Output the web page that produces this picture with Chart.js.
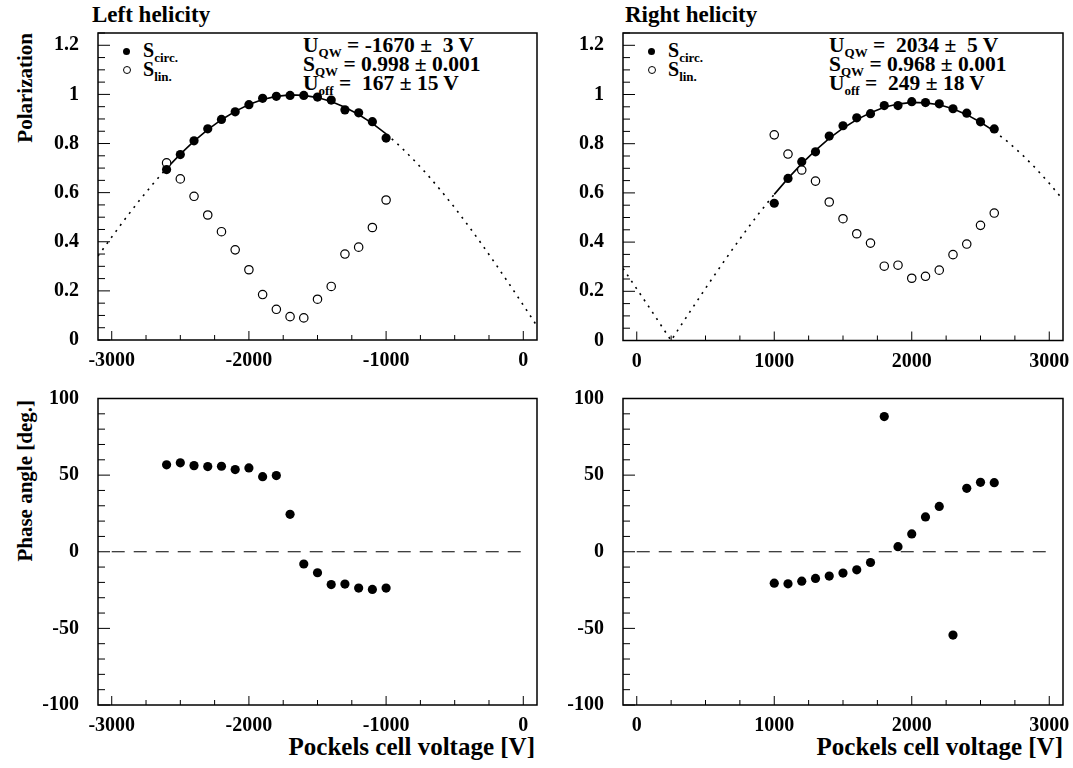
<!DOCTYPE html>
<html><head><meta charset="utf-8">
<script src="https://cdn.jsdelivr.net/npm/chart.js@4.4.1/dist/chart.umd.min.js"></script>
<style>
html,body{margin:0;padding:0;background:#fff;}
body{width:1073px;height:768px;position:relative;overflow:hidden;font-family:'Liberation Serif','Times New Roman',serif;font-weight:bold;color:#000;}
canvas{position:absolute;}
.t{position:absolute;white-space:pre;}
.title{font-size:23px;line-height:24px;}
.ytitle{font-size:21px;line-height:24px;width:300px;text-align:right;transform-origin:0 0;transform:rotate(-90deg);}
.xtitle{font-size:25px;line-height:26px;width:400px;text-align:right;}
.par{font-size:21.5px;line-height:19px;}
.par sub,.leg sub{font-size:13px;vertical-align:-5px;line-height:0;}
.leg{font-size:20px;line-height:19px;}
.dot{position:absolute;border-radius:50%;box-sizing:border-box;}
</style></head><body>

<div class="t title" style="left:92px;top:3px">Left helicity</div>
<div class="t title" style="left:625px;top:3px">Right helicity</div>
<div class="t ytitle" style="left:13px;top:333px">Polarization</div>
<div class="t ytitle" style="left:13px;top:700px">Phase angle [deg.]</div>
<div class="t xtitle" style="left:135px;top:734px">Pockels cell voltage [V]</div>
<div class="t xtitle" style="left:663px;top:734px">Pockels cell voltage [V]</div>

<div class="t par" style="left:303px;top:36px">U<sub>QW</sub> = -1670 ±  3 V
S<sub>QW</sub> = 0.998 ± 0.001
U<sub>off</sub> =  167 ± 15 V</div>
<div class="t par" style="left:829px;top:36px">U<sub>QW</sub> =  2034 ±  5 V
S<sub>QW</sub> = 0.968 ± 0.001
U<sub>off</sub> =  249 ± 18 V</div>

<div class="dot" style="left:123px;top:48px;width:7px;height:7px;background:#000"></div>
<div class="dot" style="left:122.5px;top:66px;width:8px;height:8px;border:1px solid #000"></div>
<div class="t leg" style="left:143px;top:41px">S<sub>circ.</sub></div>
<div class="t leg" style="left:143px;top:60px">S<sub>lin.</sub></div>
<div class="dot" style="left:648px;top:48px;width:7px;height:7px;background:#000"></div>
<div class="dot" style="left:647.5px;top:66px;width:8px;height:8px;border:1px solid #000"></div>
<div class="t leg" style="left:668px;top:41px">S<sub>circ.</sub></div>
<div class="t leg" style="left:668px;top:60px">S<sub>lin.</sub></div>

<canvas id="c1"></canvas>
<canvas id="c2"></canvas>
<canvas id="c3"></canvas>
<canvas id="c4"></canvas>

<script>
// ---------- data ----------
const voltLeft  = [-2600,-2500,-2400,-2300,-2200,-2100,-2000,-1900,-1800,-1700,-1600,-1500,-1400,-1300,-1200,-1100,-1000];
const circLeft  = [0.694,0.755,0.811,0.860,0.898,0.929,0.958,0.984,0.992,0.996,0.996,0.989,0.977,0.937,0.925,0.889,0.822];
const linLeft   = [0.721,0.656,0.585,0.509,0.441,0.367,0.286,0.185,0.125,0.095,0.090,0.166,0.218,0.350,0.378,0.458,0.570];
const phaseLeft = [56.7,58.0,56.2,55.6,55.8,53.6,54.7,49.0,49.7,24.4,-8.0,-13.7,-21.4,-21.1,-23.7,-24.6,-23.7];

const voltRight  = [1000,1100,1200,1300,1400,1500,1600,1700,1800,1900,2000,2100,2200,2300,2400,2500,2600];
const circRight  = [0.558,0.659,0.727,0.767,0.831,0.873,0.905,0.922,0.955,0.955,0.971,0.967,0.962,0.942,0.924,0.889,0.860];
const linRight   = [0.836,0.758,0.693,0.648,0.563,0.495,0.434,0.396,0.302,0.306,0.253,0.261,0.286,0.349,0.392,0.468,0.518];
const phaseRight = [-20.5,-20.9,-19.2,-17.4,-15.9,-13.9,-11.8,-7.0,88.2,3.3,11.6,22.7,29.6,-54.4,41.4,45.3,45.1];

// fit curves
const fitVoltLeft = [-3100,-3000,-2900,-2800,-2700,-2600,-2500,-2400,-2300,-2200,-2100,-2000,-1900,-1800,-1700,-1600,-1500,-1400,-1300,-1200,-1100,-1000,-900,-800,-700,-600,-500,-400,-300,-200,-100,0,100];
const fitLeft     = [0.342,0.419,0.495,0.567,0.635,0.699,0.757,0.810,0.857,0.897,0.931,0.959,0.979,0.992,0.998,0.996,0.987,0.971,0.948,0.918,0.882,0.839,0.790,0.734,0.674,0.608,0.539,0.465,0.388,0.308,0.226,0.142,0.057];
const fitVoltRight = [-100,0,100,200,250,300,400,500,600,700,800,900,1000,1100,1200,1300,1400,1500,1600,1700,1800,1900,2000,2100,2200,2300,2400,2500,2600,2700,2800,2900,3000,3100];
const fitRight     = [0.293,0.210,0.127,0.042,0.000,0.043,0.128,0.212,0.294,0.374,0.451,0.525,0.594,0.659,0.719,0.773,0.822,0.863,0.898,0.926,0.948,0.961,0.968,0.966,0.958,0.942,0.918,0.887,0.851,0.807,0.757,0.701,0.639,0.572];

const zeroLineLeftX  = [-3000, 0];
const zeroLineRightX = [0, 3000];
const zeroLineY      = [0, 0];

const xTicksLeft  = [-3000,-2000,-1000,0];
const xLabelsLeft = ['-3000','-2000','-1000','0'];
const xTicksRight  = [0,1000,2000,3000];
const xLabelsRight = ['0','1000','2000','3000'];
const yTicksPol  = [0,0.2,0.4,0.6,0.8,1,1.2];
const yLabelsPol = ['0','0.2','0.4','0.6','0.8','1','1.2'];
const yTicksPh  = [-100,-50,0,50,100];
const yLabelsPh = ['-100','-50','0','50','100'];

// ---------- helpers ----------
const pts = (xs, ys) => xs.map((x, i) => ({x: x, y: ys[i]}));
const FONT = {family:"'Liberation Serif','Times New Roman',serif", weight:'bold', size:20};

const innerTicks = {
  id: 'innerTicks',
  afterDraw(chart, args, o) {
    const {ctx, chartArea: a, scales: {x, y}} = chart;
    ctx.save();
    ctx.strokeStyle = '#000';
    ctx.lineWidth = 1;
    ctx.beginPath();
    for (let k = Math.ceil(x.min / o.xMinor - 1e-9); k * o.xMinor <= x.max + 1e-9; k++) {
      const px = x.getPixelForValue(k * o.xMinor);
      const len = (k % o.xRatio === 0) ? 9 : 5;
      ctx.moveTo(px, a.bottom); ctx.lineTo(px, a.bottom - len);
    }
    for (let k = Math.ceil(y.min / o.yMinor - 1e-9); k * o.yMinor <= y.max + 1e-9; k++) {
      const py = y.getPixelForValue(k * o.yMinor);
      const len = (k % o.yRatio === 0) ? 12 : 7;
      ctx.moveTo(a.left, py); ctx.lineTo(a.left + len, py);
    }
    ctx.stroke();
    ctx.lineWidth = 1.5;
    ctx.strokeRect(a.left, a.top, a.right - a.left, a.bottom - a.top);
    ctx.restore();
  }
};

function panel(id, rect, frame, xr, yr, datasets, tickOpts) {
  const cv = document.getElementById(id);
  cv.width = rect.w; cv.height = rect.h;
  cv.style.left = rect.l + 'px'; cv.style.top = rect.t + 'px';
  const yW = frame.l - rect.l, xH = rect.t + rect.h - frame.b;
  const zeroPad = s => { s.paddingTop = 0; s.paddingBottom = 0; s.paddingLeft = 0; s.paddingRight = 0; };
  new Chart(cv, {
    type: 'scatter',
    data: {datasets: datasets},
    options: {
      responsive: false, animation: false, devicePixelRatio: 1,
      layout: {padding: {top: frame.t - rect.t, right: rect.l + rect.w - frame.r, left: 0, bottom: 0}},
      plugins: {legend: {display: false}, tooltip: {enabled: false}, innerTicks: tickOpts},
      scales: {
        x: {type: 'linear', position: 'bottom', min: xr.min, max: xr.max,
            grid: {display: false}, border: {display: false},
            ticks: {font: FONT, color: '#000', padding: 1, maxRotation: 0, autoSkip: false,
                    callback: (v) => { const i = xr.ticks.indexOf(v); return i >= 0 ? xr.labels[i] : ''; }},
            afterBuildTicks: s => { s.ticks = xr.ticks.map(v => ({value: v})); },
            afterFit: s => { s.height = xH; zeroPad(s); }},
        y: {type: 'linear', position: 'left', min: yr.min, max: yr.max,
            grid: {display: false}, border: {display: false},
            ticks: {font: FONT, color: '#000', padding: 11, autoSkip: false,
                    callback: (v) => { const i = yr.ticks.indexOf(v); return i >= 0 ? yr.labels[i] : ''; }},
            afterBuildTicks: s => { s.ticks = yr.ticks.map(v => ({value: v})); },
            afterFit: s => { s.width = yW; zeroPad(s); }}
      }
    },
    plugins: [innerTicks]
  });
}

const filled = (xs, ys) => ({data: pts(xs, ys), pointRadius: 4.6, pointBackgroundColor: '#000', pointBorderWidth: 0, showLine: false});
const open = (xs, ys) => ({data: pts(xs, ys), pointRadius: 4.2, pointBackgroundColor: '#fff', pointBorderColor: '#000', pointBorderWidth: 1.2, showLine: false});
const fit = (xs, ys, lo, hi) => ({data: pts(xs, ys), showLine: true, pointRadius: 0, borderColor: '#000', borderWidth: 1.6,
  segment: {borderDash: c => (c.p0.parsed.x >= lo - 1 && c.p1.parsed.x <= hi + 1) ? [] : [2, 5.5]}});
const zero = (xs) => ({data: pts(xs, zeroLineY), showLine: true, pointRadius: 0, borderColor: '#000', borderWidth: 1, borderDash: [13, 9]});

const polTicks = {xMinor: 250, xRatio: 4, yMinor: 0.05, yRatio: 4};
const phTicks  = {xMinor: 250, xRatio: 4, yMinor: 10, yRatio: 5};

panel('c1', {l: 30, t: 25, w: 515, h: 355}, {l: 98, t: 33, r: 537, b: 340},
  {min: -3100, max: 100, ticks: xTicksLeft, labels: xLabelsLeft},
  {min: 0, max: 1.25, ticks: yTicksPol, labels: yLabelsPol},
  [filled(voltLeft, circLeft), open(voltLeft, linLeft), fit(fitVoltLeft, fitLeft, -2600, -1000)], polTicks);

panel('c2', {l: 555, t: 25, w: 518, h: 355}, {l: 623, t: 33, r: 1063, b: 340.5},
  {min: -100, max: 3100, ticks: xTicksRight, labels: xLabelsRight},
  {min: 0, max: 1.25, ticks: yTicksPol, labels: yLabelsPol},
  [filled(voltRight, circRight), open(voltRight, linRight), fit(fitVoltRight, fitRight, 1000, 2600)], polTicks);

panel('c3', {l: 30, t: 390, w: 515, h: 345}, {l: 98, t: 398.5, r: 537, b: 705},
  {min: -3100, max: 100, ticks: xTicksLeft, labels: xLabelsLeft},
  {min: -100, max: 100, ticks: yTicksPh, labels: yLabelsPh},
  [filled(voltLeft, phaseLeft), zero(zeroLineLeftX)], phTicks);

panel('c4', {l: 555, t: 390, w: 518, h: 345}, {l: 623, t: 398.5, r: 1063, b: 705},
  {min: -100, max: 3100, ticks: xTicksRight, labels: xLabelsRight},
  {min: -100, max: 100, ticks: yTicksPh, labels: yLabelsPh},
  [filled(voltRight, phaseRight), zero(zeroLineRightX)], phTicks);
</script>
</body></html>
